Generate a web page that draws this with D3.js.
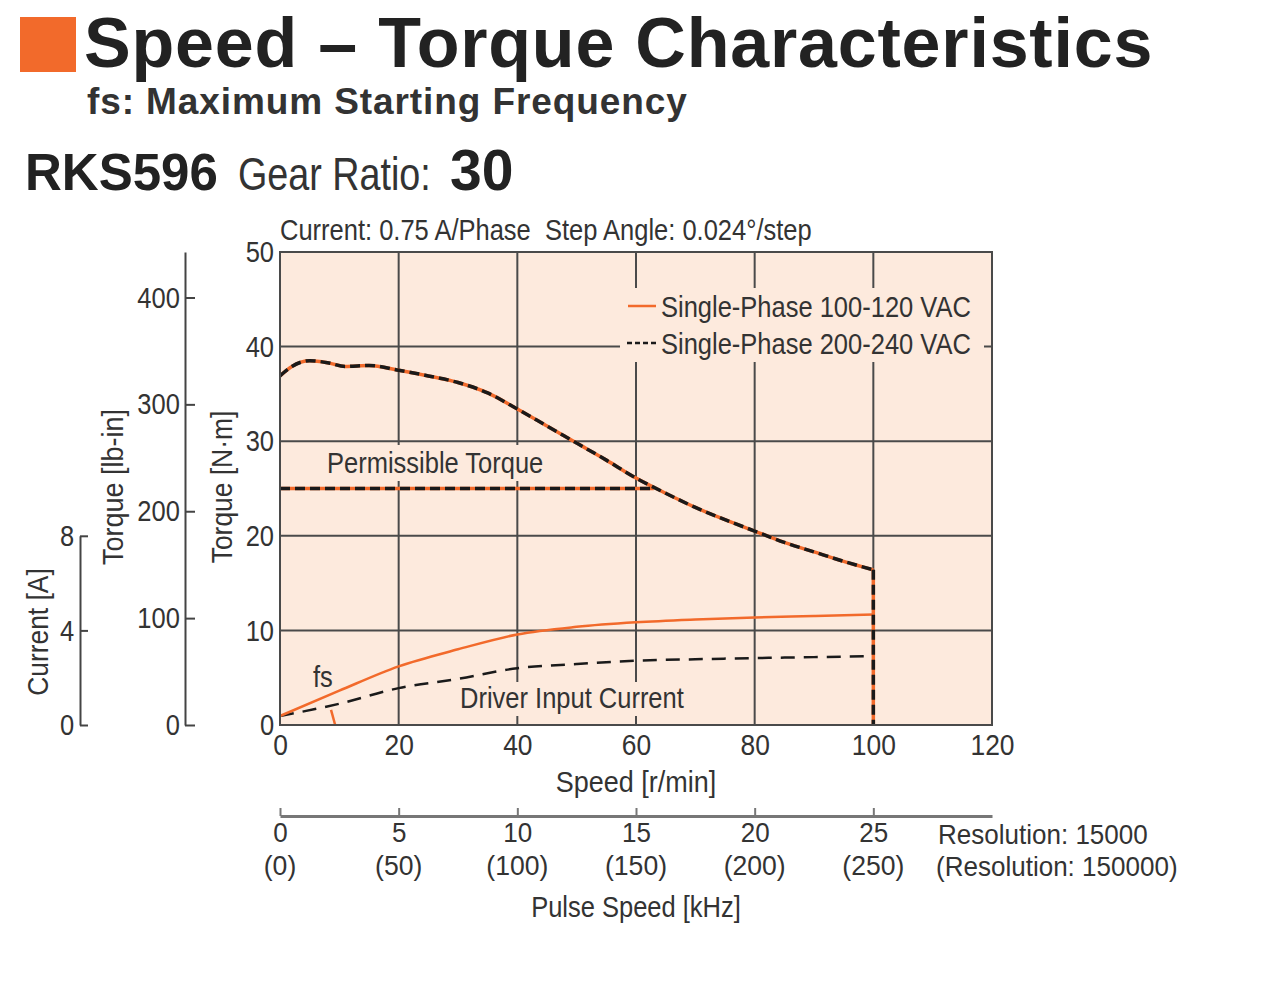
<!DOCTYPE html>
<html><head><meta charset="utf-8">
<script src="https://cdn.jsdelivr.net/npm/d3@7"></script>
<style>
body{margin:0;background:#fff}
svg{display:block}
.nar{font-family:"Liberation Sans",Arial,sans-serif;fill:#333}
</style>
</head><body>
<svg id="c" width="1280" height="1002"></svg>
<script>
// ---------- data ----------
const speedTicks = [0, 20, 40, 60, 80, 100, 120];
const torqueTicks = [0, 10, 20, 30, 40, 50];
const lbinTicks = [0, 100, 200, 300, 400];
const currentTicks = [0, 4, 8];
const pulseTicks = [0, 5, 10, 15, 20, 25];
const pulseTicksAlt = ["(0)", "(50)", "(100)", "(150)", "(200)", "(250)"];

// pull-out torque (same for both power supplies)
const torqueSpeed = [0, 2, 5, 8, 11, 15, 20, 25, 30, 35, 40, 45, 50, 55, 60, 65, 70, 75, 80, 85, 90, 95, 100];
const torqueNm    = [36.9, 37.9, 38.5, 38.3, 37.9, 38.0, 37.5, 36.9, 36.2, 35.1, 33.4, 31.6, 29.8, 28.0, 26.1, 24.5, 23.0, 21.7, 20.5, 19.3, 18.3, 17.3, 16.4];
const dropSpeed = [100, 100];
const dropTorque = [16.4, 0];
const permSpeed = [0, 63];
const permTorque = [25, 25];

// driver input current [A]
const currentSpeed = [0, 10, 20, 30, 40, 50, 60, 70, 80, 90, 100];
const current100 = [0.38, 1.45, 2.48, 3.2, 3.83, 4.15, 4.34, 4.46, 4.55, 4.61, 4.67];
const current200 = [0.38, 0.9, 1.56, 1.95, 2.4, 2.58, 2.72, 2.78, 2.83, 2.87, 2.91];

// fs marker
const fsSpeed = [8.6, 9.3];
const fsTorque = [1.6, 0];

const legendLabels = ["Single-Phase 100-120 VAC", "Single-Phase 200-240 VAC"];

// ---------- setup ----------
const ORANGE = "#f26a2b", BLACK = "#1a1a1a", GRID = "#4a4a4a", BG = "#fdeadd";
const SX = 0.85;
const svg = d3.select("#c");
const x = d3.scaleLinear().domain([0, 120]).range([280, 992]);
const y = d3.scaleLinear().domain([0, 50]).range([725, 252]);
const yLb = d3.scaleLinear().domain([0, 50 * 8.851]).range([725, 252]);
const yCur = d3.scaleLinear().domain([0, 8]).range([y(0), y(20)]);
const xp = d3.scaleLinear().domain([0, 30]).range([280, 992]);

// narrow text helper
function ntext(parent, str, xx, yy, opt) {
  opt = opt || {};
  const sx = opt.sx || SX;
  return parent.append("text").attr("class", "nar")
    .attr("transform", `translate(${xx},${yy})` + (opt.rot ? " rotate(-90)" : "") + ` scale(${sx},1)`)
    .attr("text-anchor", opt.anchor || "start")
    .style("font-size", (opt.size || 30) + "px")
    .style("white-space", "pre")
    .text(str);
}

// ---------- titles ----------
svg.append("rect").attr("x", 20).attr("y", 17).attr("width", 56).attr("height", 55).attr("fill", ORANGE);
svg.append("text").attr("x", 84).attr("y", 67).text("Speed – Torque Characteristics")
  .style("font-family", "'Liberation Sans',Arial,sans-serif").style("font-weight", "bold")
  .style("font-size", "70px").style("letter-spacing", "0.8px").attr("fill", "#222");
svg.append("text").attr("x", 87).attr("y", 114).text("fs: Maximum Starting Frequency")
  .style("font-family", "'Liberation Sans',Arial,sans-serif").style("font-weight", "bold")
  .style("font-size", "37px").style("letter-spacing", "0.9px").attr("fill", "#333");
svg.append("text").attr("x", 25).attr("y", 190).text("RKS596")
  .style("font-family", "'Liberation Sans',Arial,sans-serif").style("font-weight", "bold")
  .style("font-size", "51px").attr("fill", "#222");
ntext(svg, "Gear Ratio:", 238, 190, { size: 46, sx: 0.82 });
svg.append("text").attr("x", 450).attr("y", 190).text("30")
  .style("font-family", "'Liberation Sans',Arial,sans-serif").style("font-weight", "bold")
  .style("font-size", "57px").attr("fill", "#222");

// ---------- plot ----------
const plot = svg.append("g");
plot.append("rect").attr("x", x(0)).attr("y", y(50)).attr("width", x(120) - x(0)).attr("height", y(0) - y(50)).attr("fill", BG);

// grid
plot.append("g").selectAll("line").data(speedTicks.filter(d => d > 0 && d < 120)).join("line")
  .attr("x1", d => x(d)).attr("x2", d => x(d)).attr("y1", y(50)).attr("y2", y(0))
  .attr("stroke", GRID).attr("stroke-width", 2);
plot.append("g").selectAll("line").data(torqueTicks.filter(d => d > 0 && d < 50)).join("line")
  .attr("x1", x(0)).attr("x2", x(120)).attr("y1", d => y(d)).attr("y2", d => y(d))
  .attr("stroke", GRID).attr("stroke-width", 2);

// legend & label backgrounds
plot.append("rect").attr("x", 620).attr("y", 288).attr("width", 364).attr("height", 74).attr("fill", BG);
plot.append("rect").attr("x", 322).attr("y", 445).attr("width", 218).attr("height", 36).attr("fill", BG);
plot.append("rect").attr("x", 455).attr("y", 682).attr("width", 240).attr("height", 34).attr("fill", BG);

const lineC = d3.line().x(d => x(d[0])).y(d => y(d[1])).curve(d3.curveMonotoneX);
const lineCur = d3.line().x(d => x(d[0])).y(d => yCur(d[1])).curve(d3.curveMonotoneX);
const lineL = d3.line().x(d => x(d[0])).y(d => y(d[1]));
const zip = (a, b) => a.map((v, i) => [v, b[i]]);

// currents
plot.append("path").attr("d", lineCur(zip(currentSpeed, current200))).attr("fill", "none")
  .attr("stroke", BLACK).attr("stroke-width", 2.5).attr("stroke-dasharray", "14,9");
plot.append("path").attr("d", lineCur(zip(currentSpeed, current100))).attr("fill", "none")
  .attr("stroke", ORANGE).attr("stroke-width", 2.5);
// fs marker
plot.append("path").attr("d", lineL(zip(fsSpeed, fsTorque))).attr("fill", "none")
  .attr("stroke", ORANGE).attr("stroke-width", 2.5);

// torque curves: 100-120 VAC (orange solid) under 200-240 VAC (black dashed)
[[ORANGE, null], [BLACK, "10,5"]].forEach(([col, dash]) => {
  const g = plot.append("g").attr("fill", "none").attr("stroke", col).attr("stroke-width", 3.5)
    .attr("stroke-dasharray", dash);
  g.append("path").attr("d", lineC(zip(torqueSpeed, torqueNm)));
  g.append("path").attr("d", lineL(zip(dropSpeed, dropTorque)));
  g.append("path").attr("d", lineL(zip(permSpeed, permTorque)));
});

// border
plot.append("rect").attr("x", x(0)).attr("y", y(50)).attr("width", x(120) - x(0)).attr("height", y(0) - y(50))
  .attr("fill", "none").attr("stroke", GRID).attr("stroke-width", 2);

// legend
const leg = plot.append("g");
leg.append("line").attr("x1", 628).attr("x2", 656).attr("y1", 306).attr("y2", 306).attr("stroke", ORANGE).attr("stroke-width", 2.5);
leg.append("line").attr("x1", 627).attr("x2", 656).attr("y1", 343).attr("y2", 343).attr("stroke", BLACK).attr("stroke-width", 2.5).attr("stroke-dasharray", "5,3");
legendLabels.forEach((d, i) => ntext(leg, d, 661, 317 + i * 37));

// in-plot labels
ntext(plot, "Permissible Torque", 327, 473);
ntext(plot, "Driver Input Current", 460, 708);
ntext(plot, "fs", 313, 687);
ntext(svg, "Current: 0.75 A/Phase  Step Angle: 0.024°/step", 280, 240);

// ---------- axes ----------
function styleAxis(g, fs, sx) {
  g.selectAll("text").attr("class", "nar").style("font-size", (fs || 30) + "px").attr("fill", "#333")
    .attr("transform", `scale(${sx || SX},1)`);
  g.selectAll("line").attr("stroke", "#444").attr("stroke-width", 2);
  g.select(".domain").attr("stroke", "#444").attr("stroke-width", 2);
}
// N·m
const gNm = svg.append("g").attr("transform", `translate(${x(0)},0)`)
  .call(d3.axisLeft(y).tickValues(torqueTicks).tickSize(0).tickPadding(7));
styleAxis(gNm); gNm.select(".domain").remove();
// speed
const gX = svg.append("g").attr("transform", `translate(0,${y(0)})`)
  .call(d3.axisBottom(x).tickValues(speedTicks).tickSize(0).tickPadding(9));
styleAxis(gX, 30, 0.88); gX.select(".domain").remove();
// lb-in
const gLb = svg.append("g").attr("transform", "translate(185,0)")
  .call(d3.axisLeft(yLb).tickValues(lbinTicks).tickSizeInner(-10).tickSizeOuter(0).tickPadding(6));
styleAxis(gLb);
// current
const gCur = svg.append("g").attr("transform", "translate(80,0)")
  .call(d3.axisLeft(yCur).tickValues(currentTicks).tickSizeInner(-8).tickSizeOuter(0).tickPadding(7));
styleAxis(gCur);
// pulse speed
const gP = svg.append("g").attr("transform", "translate(0,816)")
  .call(d3.axisBottom(xp).tickValues(pulseTicks).tickSizeInner(-8).tickSizeOuter(0).tickPadding(6));
styleAxis(gP, 28, 0.93);
gP.select(".domain").attr("stroke", "#777").attr("stroke-width", 3);
gP.selectAll(".tick line").attr("stroke", "#777");
pulseTicks.forEach((d, i) => ntext(gP, pulseTicksAlt[i], xp(d), 59, { anchor: "middle", size: 28, sx: 0.95 }));

// axis titles
ntext(svg, "Speed [r/min]", 636, 792, { anchor: "middle", sx: 0.9 });
ntext(svg, "Pulse Speed [kHz]", 636, 917, { anchor: "middle" });
ntext(svg, "Torque [N·m]", 232, 487, { anchor: "middle", rot: true, sx: 0.88 });
ntext(svg, "Torque [lb-in]", 123, 487, { anchor: "middle", rot: true, sx: 0.9 });
ntext(svg, "Current [A]", 48, 632, { anchor: "middle", rot: true, sx: 0.88 });
ntext(svg, "Resolution: 15000", 938, 844, { size: 28, sx: 0.93 });
ntext(svg, "(Resolution: 150000)", 936, 876, { size: 28, sx: 0.93 });
</script>
</body></html>
